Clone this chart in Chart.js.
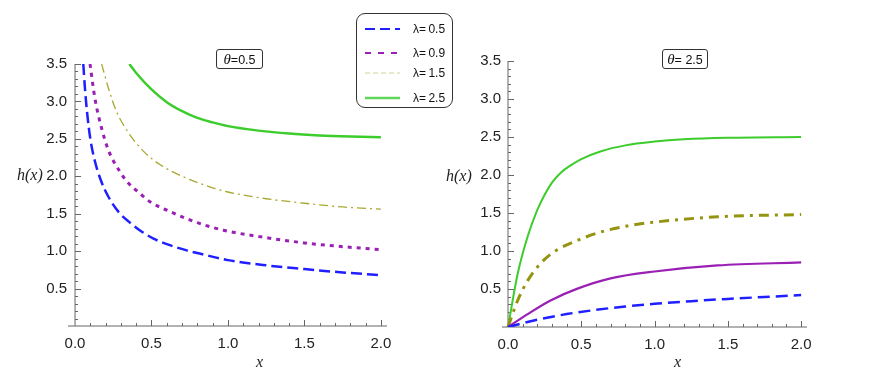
<!DOCTYPE html>
<html>
<head>
<meta charset="utf-8">
<script src="https://cdn.jsdelivr.net/npm/chart.js@4.4.1/dist/chart.umd.min.js"></script>
<style>
  body { margin: 0; background: #fff; }
  #wrap { position: relative; width: 873px; height: 382px; overflow: hidden; background: #fff; }
  #leftBox { position: absolute; left: 0; top: 0; width: 436px; height: 382px; }
  #rightBox { position: absolute; left: 436px; top: 0; width: 437px; height: 382px; }
  .lbl { position: absolute; font-family: 'Liberation Serif', 'Times New Roman', serif; font-style: italic; font-size: 16px; color: #222; white-space: nowrap; }
  .theta { position: absolute; top: 49px; height: 18px; border: 1px solid #333; border-radius: 3px;
           font-family: 'Liberation Sans', Arial, sans-serif; font-size: 12.5px;
           line-height: 18px; text-align: center; color: #111; box-sizing: content-box; white-space: nowrap; }
  .theta i { font-family: 'Liberation Serif', serif; font-size: 15px; }
  #legend { position: absolute; left: 356px; top: 13px; width: 95px; height: 93px; border: 1px solid #333; border-radius: 9px; }
  .row { position: absolute; left: 0; width: 95px; height: 16px; }
  .row svg { position: absolute; left: 8px; top: 0; }
  .row span { position: absolute; left: 56px; top: 0; line-height: 16px; font-family: 'Liberation Sans', Arial, sans-serif; font-size: 12px; color: #111; white-space: nowrap; }
</style>
</head>
<body>
<div id="wrap">
  <div id="leftBox"><canvas id="leftChart"></canvas></div>
  <div id="rightBox"><canvas id="rightChart"></canvas></div>
  <div class="lbl" style="left:17px; top:166px;">h(x)</div>
  <div class="lbl" style="left:446px; top:167px;">h(x)</div>
  <div class="lbl" style="left:256px; top:353px;">x</div>
  <div class="lbl" style="left:674px; top:353px;">x</div>
  <div class="theta" style="left:216px; width:45px;"><i>θ</i>=0.5</div>
  <div class="theta" style="left:662px; width:44px;"><i>θ</i>=&nbsp;2.5</div>
  <div id="legend"></div>
</div>
<script>
// legend / series names
const lambdas = ['0.5', '0.9', '1.5', '2.5'];

// theta = 0.5 (left panel), x and h(x)
const left05x = [0.054, 0.065, 0.08, 0.10, 0.13, 0.17, 0.22, 0.29, 0.36, 0.43, 0.51, 0.62, 0.73, 0.84, 1.0, 1.25, 1.5, 1.75, 2.0];
const left05y = [3.5, 3.17, 2.83, 2.5, 2.2, 1.94, 1.72, 1.51, 1.38, 1.27, 1.17, 1.08, 1.01, 0.955, 0.88, 0.81, 0.76, 0.715, 0.68];
const left09x = [0.098, 0.13, 0.174, 0.218, 0.294, 0.34, 0.425, 0.49, 0.62, 0.8, 0.97, 1.25, 1.5, 1.75, 2.0];
const left09y = [3.5, 3.04, 2.64, 2.35, 2.06, 1.93, 1.77, 1.66, 1.53, 1.38, 1.28, 1.18, 1.11, 1.06, 1.02];
const left15x = [0.174, 0.218, 0.27, 0.35, 0.45, 0.56, 0.7, 0.88, 1.0, 1.25, 1.5, 1.75, 2.0];
const left15y = [3.5, 3.18, 2.87, 2.58, 2.33, 2.15, 2.0, 1.86, 1.79, 1.70, 1.64, 1.59, 1.56];
const left25x = [0.355, 0.4, 0.5, 0.6, 0.7, 0.8, 0.9, 1.0, 1.2, 1.4, 1.6, 1.8, 2.0];
const left25y = [3.5, 3.38, 3.16, 2.99, 2.87, 2.78, 2.72, 2.67, 2.61, 2.57, 2.545, 2.53, 2.52];

// theta = 2.5 (right panel)
const right05x = [0, 0.1, 0.2, 0.4, 0.6, 0.8, 1.0, 1.25, 1.5, 1.75, 2.0];
const right05y = [0, 0.05, 0.095, 0.17, 0.225, 0.27, 0.305, 0.34, 0.37, 0.395, 0.42];
const right09x = [0, 0.134, 0.29, 0.474, 0.7, 1.0, 1.43, 2.0];
const right09y = [0, 0.17, 0.35, 0.505, 0.64, 0.73, 0.81, 0.85];
const right15x = [0, 0.066, 0.134, 0.224, 0.315, 0.474, 0.633, 0.814, 1.0, 1.43, 2.0];
const right15y = [0, 0.35, 0.61, 0.84, 0.99, 1.14, 1.25, 1.33, 1.38, 1.45, 1.48];
const right25x = [0, 0.066, 0.134, 0.2, 0.25, 0.3, 0.36, 0.43, 0.5, 0.63, 0.8, 1.0, 1.2, 1.5, 2.0];
const right25y = [0, 0.70, 1.19, 1.54, 1.74, 1.90, 2.03, 2.13, 2.21, 2.31, 2.39, 2.44, 2.47, 2.49, 2.5];

const xTicks = [0, 0.5, 1, 1.5, 2];
const yTicks = [0.5, 1, 1.5, 2, 2.5, 3, 3.5];

const blue = '#1f1fff', purple = '#9a1fb4', olive = '#949410', oliveLight = '#a8a830', green = '#3ccc2c';

const toPts = (xs, ys) => xs.map((x, i) => ({ x: x, y: ys[i] }));

// axis lines with inward major/minor ticks, drawn from the chart's scales
const axisTicks = {
    id: 'axisTicks',
    beforeDatasetsDraw(chart) {
        const { ctx, scales: { x, y } } = chart;
        const x0 = x.getPixelForValue(0);
        const y0 = y.getPixelForValue(0);
        ctx.save();
        ctx.strokeStyle = '#666';
        ctx.lineWidth = 1;
        ctx.beginPath();
        ctx.moveTo(x.left, y0); ctx.lineTo(x.right, y0);
        ctx.moveTo(x0, y0); ctx.lineTo(x0, y.top);
        for (let i = 1; i <= 20; i++) {
            const px = Math.round(x.getPixelForValue(i / 10)) + 0.5;
            const len = i % 5 === 0 ? 6 : 3;
            ctx.moveTo(px, y0); ctx.lineTo(px, y0 - len);
        }
        for (let i = 1; i <= 35; i++) {
            const py = Math.round(y.getPixelForValue(i / 10)) + 0.5;
            const len = i % 5 === 0 ? 6 : 3;
            ctx.moveTo(x0, py); ctx.lineTo(x0 + len, py);
        }
        ctx.stroke();
        ctx.restore();
    }
};

const tickFont = { family: "'Liberation Sans', Arial, sans-serif", size: 15 };

const makeChart = (id, datasets, xMin, yMax, pad) => {
    new Chart(document.getElementById(id), {
        type: 'scatter',
        data: { datasets: datasets },
        options: {
            responsive: true,
            maintainAspectRatio: false,
            animation: false,
            layout: { padding: pad },
            plugins: { legend: { display: false }, tooltip: { enabled: false } },
            elements: { point: { radius: 0 } },
            scales: {
                x: {
                    type: 'linear', min: xMin, max: 2.04,
                    grid: { display: false, drawTicks: false },
                    border: { display: false },
                    afterBuildTicks: s => { s.ticks = xTicks.map(v => ({ value: v })); },
                    afterFit: s => { s.height = 40; },
                    ticks: { autoSkip: false, maxRotation: 0, padding: 9, color: '#222', font: tickFont,
                             callback: v => Number(v).toFixed(1) }
                },
                y: {
                    type: 'linear', min: 0, max: yMax,
                    grid: { display: false, drawTicks: false },
                    border: { display: false },
                    afterBuildTicks: s => { s.ticks = yTicks.map(v => ({ value: v })); },
                    afterFit: s => { s.width = 40; },
                    ticks: { autoSkip: false, padding: 1, color: '#222', font: tickFont,
                             callback: v => Number(v).toFixed(1) }
                }
            }
        },
        plugins: [axisTicks]
    });
};

const line = (pts, color, width, dash) => ({
    data: pts, showLine: true, borderColor: color, borderWidth: width, borderDash: dash,
    cubicInterpolationMode: 'monotone', fill: false, pointRadius: 0, borderCapStyle: 'butt'
});

makeChart('leftChart', [
    line(toPts(left05x, left05y), blue, 2.5, [11, 5]),
    line(toPts(left09x, left09y), purple, 3, [4, 5]),
    line(toPts(left15x, left15y), oliveLight, 1.3, [9, 4, 2, 4]),
    line(toPts(left25x, left25y), green, 2.5, [])
], -0.046, 3.5, { left: 28, right: 49, top: 64, bottom: 16 });

makeChart('rightChart', [
    line(toPts(right05x, right05y), blue, 2.5, [12, 6]),
    line(toPts(right09x, right09y), purple, 2.2, []),
    line(toPts(right15x, right15y), olive, 3, [10, 6, 3, 6]),
    line(toPts(right25x, right25y), green, 2, [])
], -0.041, 3.5, { left: 26, right: 66, top: 61, bottom: 15 });

// legend rows
const legendStyles = [
    { color: blue, width: 2, dash: '10,5' },
    { color: purple, width: 2, dash: '6,7' },
    { color: '#d2d29a', width: 1.2, dash: '5,3' },
    { color: '#5fd65a', width: 2.5, dash: '' }
];
const rowTops = [7, 31, 51, 76];
const legendEl = document.getElementById('legend');
lambdas.forEach((lam, i) => {
    const st = legendStyles[i];
    const row = document.createElement('div');
    row.className = 'row';
    row.style.top = rowTops[i] + 'px';
    row.innerHTML = '<svg width="36" height="16"><line x1="0" y1="8" x2="35" y2="8" stroke="' + st.color +
        '" stroke-width="' + st.width + '" stroke-dasharray="' + st.dash + '"/></svg><span>λ=&thinsp;' + lam + '</span>';
    legendEl.appendChild(row);
});
</script>
</body>
</html>
